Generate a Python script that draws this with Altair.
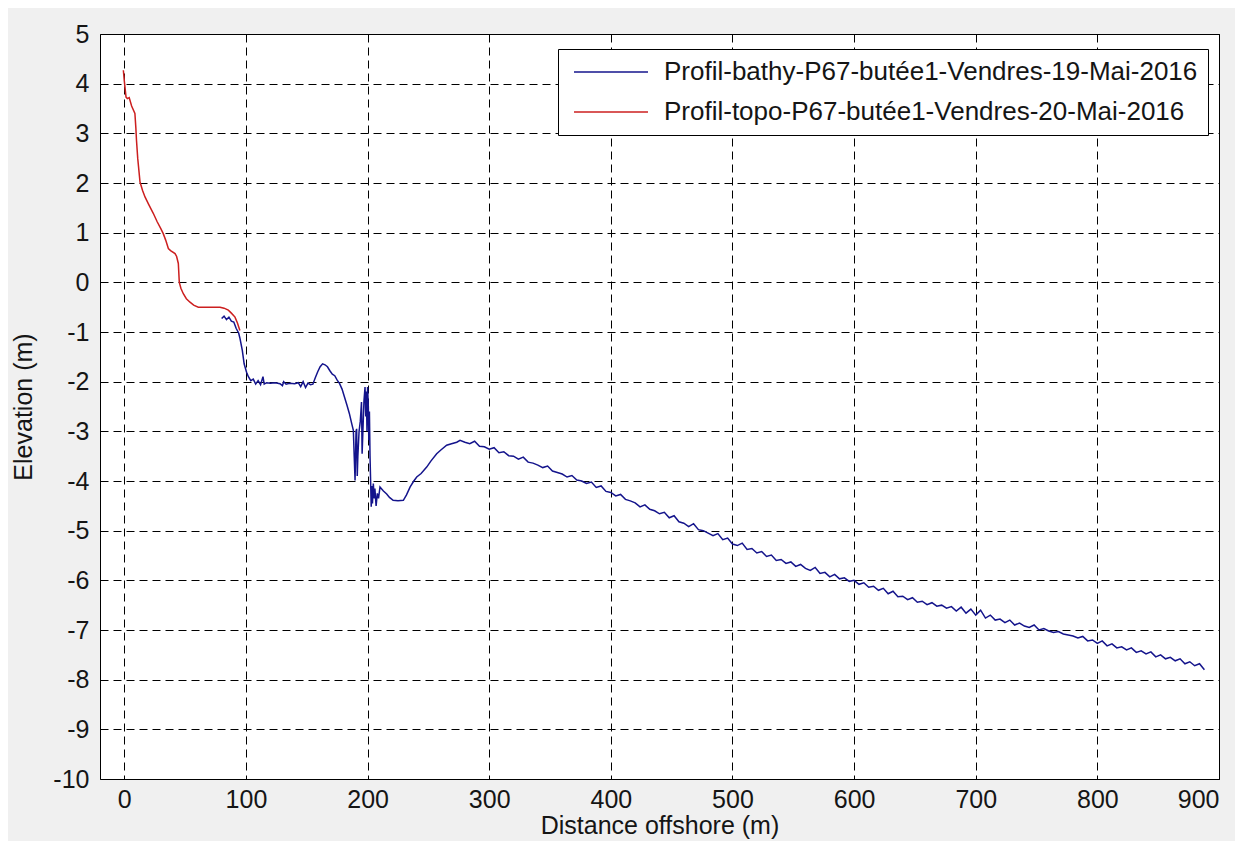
import altair as alt
import pandas as pd

# ---- data ----
topo_x = [-0.8, 0.0, 1.4, 2.5, 4.0, 6.0, 8.7, 9.5, 10.0, 11.0, 12.9, 15.0, 17.0, 20.0, 23.8,
          27.0, 30.0, 32.0, 34.0, 36.2, 38.0, 41.7, 43.0, 44.4, 45.2, 46.5, 48.5, 51.0, 54.0,
          57.0, 60.8, 70.0, 78.7, 82.0, 85.5, 88.0, 91.0, 93.0, 95.0]
topo_y = [4.27, 4.05, 3.73, 3.70, 3.72, 3.55, 3.40, 3.10, 2.86, 2.50, 2.02, 1.85, 1.72, 1.57, 1.39,
          1.22, 1.08, 0.98, 0.85, 0.68, 0.64, 0.58, 0.52, 0.38, 0.00, -0.12, -0.23, -0.33, -0.40,
          -0.46, -0.50, -0.50, -0.50, -0.52, -0.56, -0.62, -0.70, -0.82, -0.97]

bathy_x = [80, 82, 84, 86, 88, 90, 92, 94, 95, 97, 98.5, 100.5, 102, 104, 106, 108, 110, 112, 114, 115,
           117, 120, 124, 128, 130, 131, 133, 136, 140, 143, 145, 147, 149, 151, 153, 155, 157, 159, 161, 163,
           165, 167, 169, 171, 173, 175, 177, 179, 181, 183, 185, 187, 188.3, 189, 189.7, 190.5, 191, 191.5, 192, 193,
           194, 195, 195.5, 196, 197, 197.9, 198.5, 199, 199.5, 200, 200.6, 201, 201.5, 202, 203, 203.5, 204, 204.7, 205.5, 206,
           207, 208, 209, 210.2, 213, 215.7, 218, 221, 225, 229.4, 232, 235, 238, 240.4, 244, 248.6, 252, 256.8, 260, 265,
           269, 273.3, 276,
           280, 284, 288, 292, 296, 300, 304, 308, 312, 316, 320, 324, 328, 332, 336, 340, 344, 348, 352, 356,
           360, 364, 368, 372, 376, 380, 384, 388, 392, 396, 400, 404, 408, 412, 416, 420, 424, 428, 432, 436,
           440, 444, 448, 452, 456, 460, 464, 468, 472, 476, 480, 484, 488, 492, 496, 500, 504, 508, 512, 516,
           520, 524, 528, 532, 536, 540, 544, 548, 552, 556, 560, 564, 568, 572, 576, 580, 584, 588, 592, 596,
           600, 604, 608, 612, 616, 620, 624, 628, 632, 636, 640, 644, 648, 652, 656, 660, 664, 668, 672, 676,
           680, 684, 688, 692, 696, 700, 704, 708, 712, 716, 720, 724, 728, 732, 736, 740, 744, 748, 752, 756,
           760, 764, 768, 772, 776, 780, 784, 788, 792, 796, 800, 804, 808, 812, 816, 820, 824, 828, 832, 836,
           840, 844, 848, 852, 856, 860, 864, 868, 872, 876, 880, 884, 888]
bathy_y = [-0.73, -0.68, -0.75, -0.70, -0.78, -0.80, -0.93, -1.02, -1.12, -1.37, -1.64, -1.81, -1.90, -1.98, -1.95, -2.05, -1.98, -2.06, -1.90, -2.05,
           -2.02, -2.03, -2.02, -2.04, -2.08, -2.00, -2.05, -2.03, -2.04, -2.02, -2.10, -2.00, -2.12, -2.03, -2.06, -2.05, -1.92, -1.80, -1.70, -1.64,
           -1.66, -1.70, -1.78, -1.85, -1.88, -1.97, -2.04, -2.15, -2.31, -2.47, -2.64, -2.85, -2.98, -3.50, -3.99, -3.00, -2.95, -3.90, -3.50, -3.00,
           -2.80, -2.41, -3.45, -3.10, -2.40, -2.11, -2.70, -2.20, -3.00, -2.11, -2.50, -3.18, -2.60, -3.50, -4.52, -4.10, -4.45, -4.05, -4.35, -4.15,
           -4.50, -4.25, -4.35, -4.12, -4.20, -4.26, -4.33, -4.39, -4.40, -4.39, -4.28, -4.12, -4.00, -3.92, -3.85, -3.72, -3.60, -3.45, -3.38, -3.28,
           -3.25, -3.22, -3.18,
           -3.22, -3.25, -3.20, -3.30, -3.31, -3.36, -3.33, -3.43, -3.41, -3.49, -3.50, -3.56, -3.52, -3.62, -3.64, -3.68, -3.73, -3.70, -3.80, -3.83,
           -3.86, -3.92, -3.89, -3.98, -4.00, -4.05, -4.02, -4.13, -4.10, -4.21, -4.23, -4.30, -4.27, -4.37, -4.40, -4.44, -4.52, -4.48, -4.57, -4.60,
           -4.66, -4.63, -4.74, -4.70, -4.82, -4.85, -4.92, -4.86, -4.98, -5.00, -5.05, -5.10, -5.06, -5.18, -5.15, -5.27, -5.30, -5.25, -5.38, -5.36,
           -5.45, -5.42, -5.52, -5.49, -5.60, -5.58, -5.66, -5.63, -5.72, -5.68, -5.76, -5.80, -5.74, -5.86, -5.84, -5.93, -5.88, -5.97, -5.95, -6.02,
           -6.00, -6.08, -6.05, -6.14, -6.12, -6.20, -6.16, -6.27, -6.22, -6.33, -6.32, -6.39, -6.35, -6.44, -6.42, -6.49, -6.45, -6.52, -6.50, -6.56,
           -6.53, -6.62, -6.54, -6.66, -6.58, -6.70, -6.60, -6.76, -6.70, -6.80, -6.78, -6.85, -6.80, -6.90, -6.86, -6.92, -6.95, -6.90, -7.00, -6.97,
           -7.02, -7.05, -7.03, -7.08, -7.10, -7.12, -7.16, -7.13, -7.22, -7.20, -7.27, -7.22, -7.32, -7.28, -7.36, -7.34, -7.40, -7.36, -7.45, -7.42,
           -7.48, -7.44, -7.54, -7.50, -7.58, -7.55, -7.62, -7.58, -7.68, -7.64, -7.72, -7.68, -7.80]

series_names = ["Profil-bathy-P67-butée1-Vendres-19-Mai-2016",
                "Profil-topo-P67-butée1-Vendres-20-Mai-2016"]
series_colors = ["#14148c", "#cc1f1f"]
x_ticks = [0, 100, 200, 300, 400, 500, 600, 700, 800, 900]
y_ticks = [-10, -9, -8, -7, -6, -5, -4, -3, -2, -1, 0, 1, 2, 3, 4, 5]

rows = []
for i, (x, y) in enumerate(zip(bathy_x, bathy_y)):
    rows.append({"x": x, "y": y, "s": series_names[0], "i": i})
for i, (x, y) in enumerate(zip(topo_x, topo_y)):
    rows.append({"x": x, "y": y, "s": series_names[1], "i": i})
df = pd.DataFrame(rows)

FONT = "Liberation Sans"
TXT = "#151515"

axis_common = dict(
    grid=True, gridDash=[8, 5], gridColor="#000000", gridWidth=1, gridOpacity=1,
    ticks=False, domain=False,
    labelFont=FONT, labelFontSize=25, labelColor=TXT,
    labelExpr="'' + datum.value",
    titleFont=FONT, titleFontSize=25, titleFontWeight="normal", titleColor=TXT,
)

chart = alt.Chart(df).mark_line(strokeWidth=1.5).encode(
    x=alt.X("x:Q", scale=alt.Scale(domain=[-20, 900], nice=False, zero=False),
            axis=alt.Axis(values=x_ticks, title="Distance offshore (m)", labelPadding=8,
                          titlePadding=1, **axis_common)),
    y=alt.Y("y:Q", scale=alt.Scale(domain=[-10, 5], nice=False, zero=False),
            axis=alt.Axis(values=y_ticks, title="Elevation (m)", labelPadding=11,
                          titlePadding=16, **axis_common)),
    color=alt.Color("s:N", scale=alt.Scale(domain=series_names, range=series_colors),
                    legend=alt.Legend(title=None, orient="none", legendX=458, legendY=15,
                                      strokeColor="#000000", fillColor="#ffffff", padding=10,
                                      symbolType="M-4,0H4", symbolSize=342, symbolStrokeWidth=1.5,
                                      symbolOffset=30,
                                      labelFont=FONT, labelFontSize=26, labelColor=TXT,
                                      labelLimit=800, labelOffset=40, rowPadding=14)),
    order="i:Q",
).properties(
    width=1119, height=745,
    background="#f0f0f0",
    padding={"left": 92, "top": 26, "right": 16, "bottom": 62},
    autosize=alt.AutoSizeParams(type="none"),
).configure_view(fill="#ffffff", stroke="#000000", strokeWidth=1)

chart.save("out.html", embed_options={"renderer": "svg", "actions": False})
